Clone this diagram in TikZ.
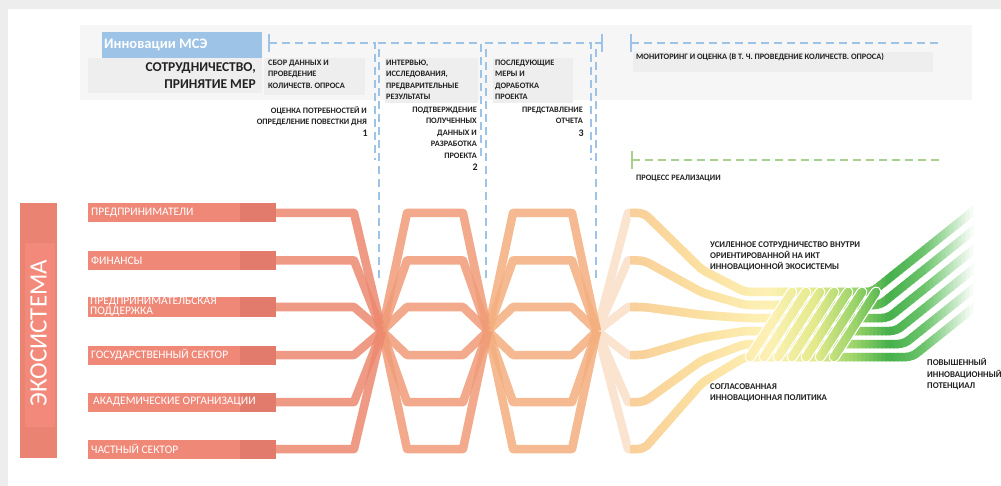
\documentclass[tikz,border=0pt]{standalone}
\usepackage{fontspec}
\setmainfont{Carlito}
\definecolor{bgout}{HTML}{EDEDED}
\definecolor{panel}{HTML}{F6F6F6}
\definecolor{panelb}{HTML}{EEEEEE}
\definecolor{mseblue}{HTML}{9DC3E6}
\definecolor{dashblue}{HTML}{9DC3E6}
\definecolor{dashgreen}{HTML}{A9D18E}
\definecolor{txt}{HTML}{222222}
\definecolor{eco}{HTML}{EA8371}
\definecolor{ecomid}{HTML}{F2897A}
\definecolor{barc}{HTML}{F08878}
\definecolor{bardark}{HTML}{E27B6C}
\definecolor{sA}{HTML}{EC896F}
\definecolor{sB}{HTML}{F09B78}
\definecolor{sC}{HTML}{F4AF7E}
\definecolor{sD}{HTML}{FBE4CF}
\definecolor{g0}{HTML}{F9CF9A}
\definecolor{g1}{HTML}{FBE0A0}
\definecolor{g2}{HTML}{FDF1B5}
\definecolor{g3}{HTML}{E4EA8C}
\definecolor{g4}{HTML}{9CD46A}
\definecolor{g5}{HTML}{45B04B}
\definecolor{g6}{HTML}{6CC46C}
\newcommand\gmix[5]{\pgfmathsetmacro\gp{max(0,min(100,100*(#5-#1)/(#2-#1)))}\colorlet{sc}{#4!\gp!#3}}
\newcommand\gradset[1]{%
 \ifdim#1pt<700pt \gmix{630}{700}{g0}{g1}{#1}\else
 \ifdim#1pt<770pt \gmix{700}{770}{g1}{g2}{#1}\else
 \ifdim#1pt<815pt \gmix{770}{815}{g2}{g3}{#1}\else
 \ifdim#1pt<855pt \gmix{815}{855}{g3}{g4}{#1}\else
 \ifdim#1pt<890pt \gmix{855}{890}{g4}{g5}{#1}\else
 \ifdim#1pt<925pt \gmix{890}{925}{g5}{g6}{#1}\else
 \ifdim#1pt<975pt \gmix{925}{975}{g6}{white}{#1}\else
 \colorlet{sc}{white}\fi\fi\fi\fi\fi\fi\fi}
% a stroke with a white edge and a colour graded along x (by slices)
\newcommand\gradstroke[2]{%
  \draw[streamedge,#1] #2;
  \foreach \xa in {630,634,...,998}{%
    \pgfmathsetmacro\xm{\xa+2}%
    \gradset{\xm}%
    \begin{scope}
    \clip (\xa-0.6,150) rectangle (\xa+4.6,480);
    \draw[stream,sc,#1] #2;
    \end{scope}}}
\tikzset{
 sl/.style={font=\fontsize{8.3}{11.5}\selectfont\bfseries, text=txt, inner sep=0pt, align=left},
 slr/.style={sl, align=right},
 num/.style={font=\fontsize{10}{11}\selectfont\bfseries, text=txt, inner sep=0pt},
 rowlbl/.style={font=\fontsize{11.5}{10}\selectfont, text=white, inner sep=0pt, align=left, anchor=west},
 flow/.style={line width=8.5, line join=round, opacity=0.85},
 stream/.style={line width=8.5, line join=round, rounded corners=6},
 streamedge/.style={white, line width=11, line join=round, rounded corners=6},
 strand/.style={line cap=round},
 bdash/.style={draw=dashblue, line width=2.3, dash pattern=on 8pt off 5pt},
 btick/.style={draw=dashblue, line width=2.3},
 gdash/.style={draw=dashgreen, line width=2.3, dash pattern=on 8pt off 5pt},
 gtick/.style={draw=dashgreen, line width=2.3}
}
\begin{document}
\begin{tikzpicture}[x=1pt,y=-1pt]
\useasboundingbox (0,0) rectangle (1001,486);
\fill[bgout] (0,0) rectangle (1001,486);
\fill[white] (8,9) rectangle (1001,486);
% top panels
\fill[panel] (80,25) rectangle (972,100);
\fill[panelb] (88,58) rectangle (262,93);
\fill[panelb] (264,58) rectangle (365,95);
\fill[panelb] (385,58) rectangle (478,103);
\fill[panelb] (493,58) rectangle (573,103);
\fill[panelb] (633,52) rectangle (933,72);
\fill[mseblue] (102,32) rectangle (262,58);
\node[font=\fontsize{14.5}{16}\selectfont\bfseries, text=white, inner sep=0pt, anchor=west] (mse) at (104,45) {Инновации МСЭ};
\node[font=\fontsize{13.5}{16.5}\selectfont\bfseries, text=txt, inner sep=0pt, align=right, anchor=north east] (sotr) at (256,62.5) {СОТРУДНИЧЕСТВО,\\ПРИНЯТИЕ МЕР};
% blue dashed process lines
\coordinate (t1) at (269,43);
\draw[btick] (269,34) -- (269,52);
\draw[bdash] (t1) -- (375,43) -- (375,160);
\draw[bdash] (379,278) -- (379,43) -- (481,43) -- (481,160);
\draw[bdash] (486,278) -- (486,43) -- (591,43) -- (591,160);
\draw[bdash] (596,278) -- (596,43) -- (602,43);
\draw[btick] (602,34) -- (602,52);
\draw[btick] (631,34) -- (631,52);
\draw[bdash] (631,43) -- (940,43);
\draw[gtick] (632,151) -- (632,169);
\draw[gdash] (632,160) -- (940,160);
% labels top
\node[sl, anchor=north west] (sbor) at (268,59.5) {СБОР ДАННЫХ И\\ПРОВЕДЕНИЕ\\КОЛИЧЕСТВ. ОПРОСА};
\node[slr, anchor=north east] (ocen) at (367,106.5) {ОЦЕНКА ПОТРЕБНОСТЕЙ И\\ОПРЕДЕЛЕНИЕ ПОВЕСТКИ ДНЯ};
\node[num, anchor=east] (n1) at (368,133) {1};
\node[sl, anchor=north west] (interv) at (386,59.5) {ИНТЕРВЬЮ,\\ИССЛЕДОВАНИЯ,\\ПРЕДВАРИТЕЛЬНЫЕ\\РЕЗУЛЬТАТЫ};
\node[slr, anchor=north east] (podtv) at (477,106.5) {ПОДТВЕРЖДЕНИЕ\\ПОЛУЧЕННЫХ\\ДАННЫХ И\\РАЗРАБОТКА\\ПРОЕКТА};
\node[num, anchor=east] (n2) at (478,167) {2};
\node[sl, anchor=north west] (posl) at (495,59.5) {ПОСЛЕДУЮЩИЕ\\МЕРЫ И\\ДОРАБОТКА\\ПРОЕКТА};
\node[slr, anchor=north east] (predst) at (583,106.5) {ПРЕДСТАВЛЕНИЕ\\ОТЧЕТА};
\node[num, anchor=east] (n3) at (584,133) {3};
\node[sl, anchor=west] (monit) at (636,57) {МОНИТОРИНГ И ОЦЕНКА (В Т. Ч. ПРОВЕДЕНИЕ КОЛИЧЕСТВ. ОПРОСА)};
\node[sl, anchor=west] (proc) at (636,178) {ПРОЦЕСС РЕАЛИЗАЦИИ};
% convergence points
\coordinate (c1) at (382,331);
\coordinate (c2) at (488,331);
\coordinate (c3) at (597,331);
% pale part
\foreach \y in {213,260.5,307,355,402,449}
  \draw[line width=8.5, line join=round, sD] (c3) -- (628,\y) -- (634,\y);
% right streams
\foreach \y/\h/\b in {213/292/872,260.5/305/880,307/318/888,355/331/896,402/344/904,449/357/912}{%
  \gradstroke{}{(630,\y) -- (644,\y) -- (702,{\h+(\y-\h)*0.28}) -- (745,\h) -- (\b,\h) -- ++(125,-100)}}
% rope strands across the bundle
\foreach \sx in {750,764,...,834}{%
  \gradstroke{strand}{(\sx,357) -- (\sx+42,292)}}
% orange segments
\foreach \y in {213,260.5,307,355,402,449}{
  \draw[flow, sC] (c2) -- (513,\y) -- (572,\y) -- (c3);
  \draw[flow, sB] (c1) -- (407,\y) -- (463,\y) -- (c2);
  \draw[flow, sA] (270,\y) -- (354,\y) -- (c1);
}
% ecosystem bar
\fill[eco] (20,203) rectangle (57,458);
\fill[ecomid] (25,243) rectangle (55,427);
\node[font=\fontsize{25}{27}\selectfont, text=white, rotate=90, inner sep=0pt] (eco) at (38.5,333) {ЭКОСИСТЕМА};
% row bars
\foreach \y in {213,260.5,307,355,402,449}{
  \fill[barc] (88,\y-9.5) rectangle (276,\y+9.5);
  \fill[bardark] (240,\y-9.5) rectangle (276,\y+9.5);
}
\node[rowlbl] (l1) at (91,213) {ПРЕДПРИНИМАТЕЛИ};
\node[rowlbl] (l2) at (91,260.5) {ФИНАНСЫ};
\node[rowlbl] (l3) at (90,307) {ПРЕДПРИНИМАТЕЛЬСКАЯ\\ПОДДЕРЖКА};
\node[rowlbl] (l4) at (91,355) {ГОСУДАРСТВЕННЫЙ СЕКТОР};
\node[rowlbl] (l5) at (93,402) {АКАДЕМИЧЕСКИЕ ОРГАНИЗАЦИИ};
\node[rowlbl] (l6) at (91,449) {ЧАСТНЫЙ СЕКТОР};
% right labels
\node[sl, anchor=north west, font=\fontsize{8.8}{11}\selectfont\bfseries] (usil) at (710,241.5) {УСИЛЕННОЕ СОТРУДНИЧЕСТВО ВНУТРИ\\ОРИЕНТИРОВАННОЙ НА ИКТ\\ИННОВАЦИОННОЙ ЭКОСИСТЕМЫ};
\node[sl, anchor=north west, font=\fontsize{8.8}{11}\selectfont\bfseries] (sogl) at (710,383.5) {СОГЛАСОВАННАЯ\\ИННОВАЦИОННАЯ ПОЛИТИКА};
\node[sl, anchor=north west, font=\fontsize{8.8}{11.5}\selectfont\bfseries] (povy) at (927,358.5) {ПОВЫШЕННЫЙ\\ИННОВАЦИОННЫЙ\\ПОТЕНЦИАЛ};
\end{tikzpicture}
\end{document}
